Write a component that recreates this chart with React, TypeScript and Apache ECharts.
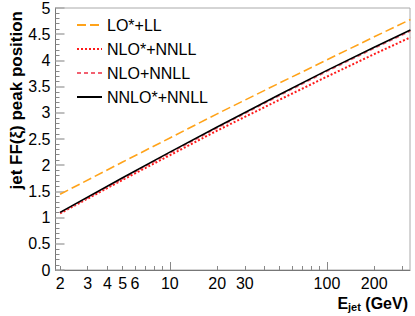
import React, { useEffect, useRef } from "react";
import * as echarts from "echarts";

const energies = [2, 5, 10, 20, 50, 100, 200, 340];
const loLL = [1.445, 2.06, 2.52, 2.98, 3.57, 4.01, 4.45, 4.78];
const nloStarNNLL = [1.08, 1.72, 2.19, 2.66, 3.25, 3.69, 4.12, 4.44];
const nloNNLL = [1.09, 1.74, 2.23, 2.71, 3.33, 3.79, 4.23, 4.56];
const nnloStarNNLL = [1.1, 1.76, 2.25, 2.73, 3.35, 3.81, 4.25, 4.58];
const seriesNames = ["LO*+LL", "NLO*+NNLL", "NLO+NNLL", "NNLO*+NNLL"];
const xLabelValues = [2, 3, 4, 5, 6, 10, 20, 30, 100, 200];
const xMajorTicks = [10, 100];
const xMinorTicks = [2, 3, 4, 5, 6, 7, 8, 9, 20, 30, 40, 50, 60, 70, 80, 90, 200, 300];

const FONT = "'Liberation Sans', Arial, Helvetica, sans-serif";

export default function App() {
  const ref = useRef<HTMLDivElement>(null);
  useEffect(() => {
    if (!ref.current) return;
    const chart = echarts.init(ref.current, undefined, { renderer: "svg" });
    const pair = (ys: number[]) => energies.map((e, i) => [e, ys[i]]);
    const xMin = 1.87;
    const xMax = 338;
    chart.setOption({
      animation: false,
      backgroundColor: "#fff",
      textStyle: { fontFamily: FONT },
      grid: {
        left: 55.5,
        right: 5,
        top: 7,
        bottom: 46,
        show: true,
        borderColor: "#aaa",
        borderWidth: 1,
        containLabel: false,
      },
      legend: {
        orient: "vertical",
        left: 76,
        top: 17,
        padding: 0,
        itemWidth: 25,
        itemHeight: 16,
        itemGap: 8,
        data: seriesNames,
        itemStyle: { opacity: 0 },
        textStyle: { fontSize: 16, color: "#000", fontFamily: FONT, lineHeight: 16 },
      },
      xAxis: [
        {
          type: "log",
          logBase: 10,
          min: xMin,
          max: xMax,
          axisLine: { show: true, lineStyle: { color: "#777", width: 1 } },
          axisTick: {
            show: true,
            inside: true,
            length: 8,
            customValues: xMajorTicks,
            lineStyle: { color: "#888", width: 1 },
          },
          minorTick: { show: false },
          splitLine: { show: false },
          axisLabel: {
            customValues: xLabelValues,
            fontSize: 16,
            color: "#000",
            margin: 5,
            fontFamily: FONT,
          },
          name: "{b|E}{s|jet}{b| (GeV)}",
          nameLocation: "end",
          nameGap: -2,
          nameMoveOverlap: false,
          nameTextStyle: {
            align: "right",
            verticalAlign: "top",
            padding: [24, 0, 0, 0],
            rich: {
              b: { fontSize: 16, fontWeight: "bold", color: "#000", fontFamily: FONT, lineHeight: 18 },
              s: { fontSize: 11, fontWeight: "bold", color: "#000", fontFamily: FONT, lineHeight: 12, verticalAlign: "bottom" },
            },
          },
        },
        {
          type: "log",
          logBase: 10,
          min: xMin,
          max: xMax,
          position: "bottom",
          axisLine: { show: false },
          axisTick: {
            show: true,
            inside: true,
            length: 4,
            customValues: xMinorTicks,
            lineStyle: { color: "#888", width: 1 },
          },
          axisLabel: { show: false },
          splitLine: { show: false },
        },
      ],
      yAxis: {
        type: "value",
        min: 0,
        max: 5,
        interval: 0.5,
        axisLine: { show: true, lineStyle: { color: "#777", width: 1 } },
        axisTick: { show: true, inside: true, length: 9, lineStyle: { color: "#aaa", width: 1.5 } },
        minorTick: { show: true, splitNumber: 5, length: 4, lineStyle: { color: "#888", width: 1 } },
        splitLine: { show: false },
        axisLabel: { fontSize: 16, color: "#000", margin: 5, fontFamily: FONT },
        name: "jet FF(ξ) peak position",
        nameLocation: "end",
        nameRotate: 90,
        nameGap: -3,
        nameMoveOverlap: false,
        nameTextStyle: {
          align: "right",
          verticalAlign: "bottom",
          padding: [0, 0, 31, 0],
          fontSize: 17,
          fontWeight: "bold",
          color: "#000",
          fontFamily: FONT,
        },
      },
      series: [
        {
          name: seriesNames[0],
          type: "line",
          data: pair(loLL),
          symbol: "none",
          lineStyle: { color: "#ffa31a", width: 1.6, type: [9, 4] },
          itemStyle: { color: "#ffa31a" },
        },
        {
          name: seriesNames[1],
          type: "line",
          data: pair(nloStarNNLL),
          symbol: "none",
          lineStyle: { color: "#ff1a1a", width: 2, type: [2, 2] },
          itemStyle: { color: "#ff1a1a" },
        },
        {
          name: seriesNames[2],
          type: "line",
          data: pair(nloNNLL),
          symbol: "none",
          lineStyle: { color: "#f26070", width: 1.5, type: [4, 3] },
          itemStyle: { color: "#f26070" },
        },
        {
          name: seriesNames[3],
          type: "line",
          data: pair(nnloStarNNLL),
          symbol: "none",
          lineStyle: { color: "#000", width: 1.6, type: "solid" },
          itemStyle: { color: "#000" },
        },
      ],
    });
    return () => chart.dispose();
  }, []);
  return (
    <div
      ref={ref}
      style={{ position: "absolute", left: 0, top: 0, width: 415, height: 316 }}
    />
  );
}
